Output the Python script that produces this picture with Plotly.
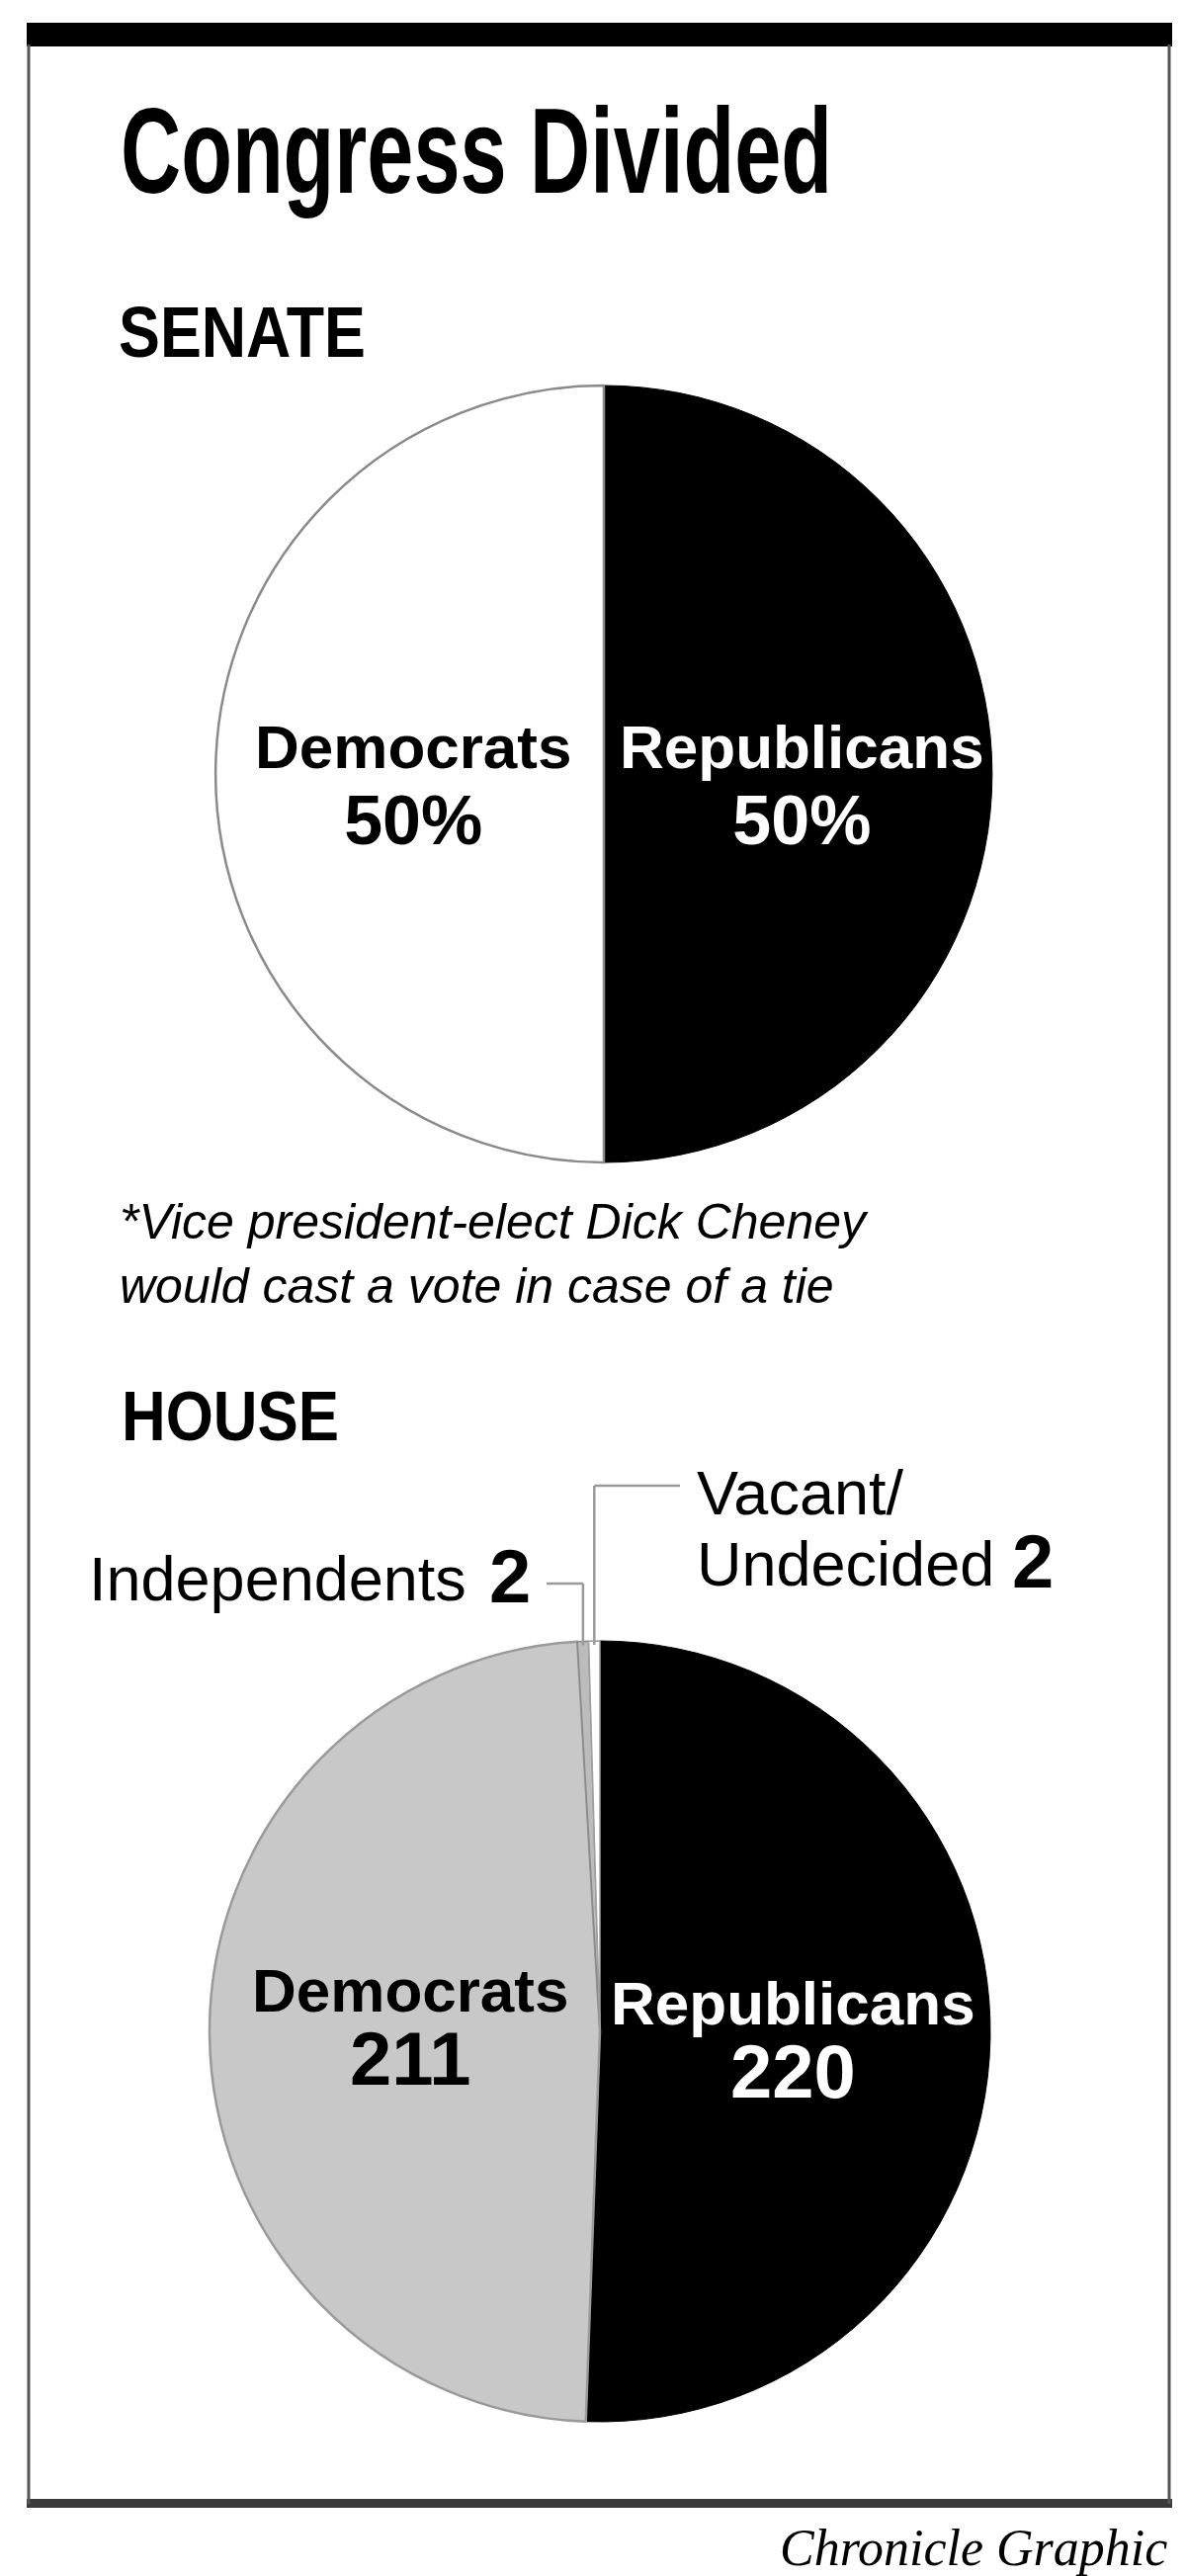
import math
import plotly.graph_objects as go

W, H = 1200, 2606

# ---------------- data ----------------
title_text = "Congress Divided"
senate_heading = "SENATE"
house_heading = "HOUSE"

senate_labels = ["Republicans", "Democrats"]
senate_values = [50, 50]
senate_value_text = ["50%", "50%"]
senate_colors = ["#000000", "#ffffff"]

house_labels = ["Republicans", "Democrats", "Independents", "Vacant/Undecided"]
house_values = [220, 211, 2, 2]
house_colors = ["#000000", "#c8c8c8", "#bcbcbc", "#ffffff"]

footnote_lines = ["*Vice president-elect Dick Cheney", "would cast a vote in case of a tie"]
credit = "Chronicle Graphic"

# ---------------- geometry helpers ----------------
def px(x):
    return x / W


def py(y):
    return 1 - y / H


SEN_C = (611, 783)
SEN_R = 393
HOU_C = (607, 2055)
HOU_R = 395


def domain(c, r):
    return dict(x=[px(c[0] - r), px(c[0] + r)], y=[py(c[1] + r), py(c[1] - r)])


SANS = "Liberation Sans, Arial, sans-serif"
SERIF = "Liberation Serif, Times New Roman, serif"

fig = go.Figure()

fig.add_trace(go.Pie(
    labels=senate_labels, values=senate_values, sort=False,
    direction="clockwise", rotation=0, textinfo="none",
    marker=dict(colors=senate_colors,
                line=dict(color=["#000000", "#8a8a8a"], width=[1, 2.5])),
    domain=domain(SEN_C, SEN_R), showlegend=False, hoverinfo="label+value",
))

fig.add_trace(go.Pie(
    labels=house_labels, values=house_values, sort=False,
    direction="clockwise", rotation=0, textinfo="none",
    marker=dict(colors=house_colors,
                line=dict(color=["#000000", "#9a9a9a", "#8a8a8a", "#a0a0a0"],
                          width=[1, 2.5, 1.5, 1.5])),
    domain=domain(HOU_C, HOU_R), showlegend=False, hoverinfo="label+value",
))

annotations = []


def ann(text, x, y, size, family=SANS, color="#000000", xanchor="center",
        weight="normal", style="normal", align="left"):
    annotations.append(dict(
        text=text, x=px(x), y=py(y), xref="paper", yref="paper",
        xanchor=xanchor, yanchor="middle", showarrow=False,
        font=dict(size=size, family=family, color=color, weight=weight, style=style),
        align=align,
    ))


def two_line(name, value, name_size, value_size):
    return (f"<span style='font-size:{name_size}px'>{name}</span><br>"
            f"<span style='font-size:{value_size}px'>{value}</span>")


# Title and headings (condensed afterwards via textLength in post_script)
ann(title_text, 120, 153, 122, SANS, xanchor="left", weight="bold")
ann(senate_heading, 118, 336, 72, SANS, xanchor="left", weight="bold")
ann(house_heading, 121, 1433, 70, SANS, xanchor="left", weight="bold")

# Senate slice labels (line pitch = 1.3 x base size)
sen_label_x = {"Democrats": 418, "Republicans": 811}
for lab, val in zip(senate_labels, senate_value_text):
    col = "#ffffff" if lab == "Republicans" else "#000000"
    ann(two_line(lab, val, 62, 70), sen_label_x[lab], 795, 59, SANS, col,
        weight="bold", align="center")

# House slice labels
hou_label_pos = {"Democrats": (415, 2052), "Republicans": (802, 2065)}
for lab, val in zip(house_labels[:2], house_values[:2]):
    col = "#ffffff" if lab == "Republicans" else "#000000"
    x, y = hou_label_pos[lab]
    ann(two_line(lab, val, 62, 76), x, y, 57, SANS, col, weight="bold", align="center")

# Footnote (one block, 1.3 line spacing)
ann("<br>".join(footnote_lines), 119, 1268, 50, SANS, xanchor="left", style="italic")

# Small-slice callouts
ann("Independents", 474, 1597, 63, SANS, xanchor="right")
ann(str(house_values[2]), 493, 1594, 76, SANS, xanchor="left", weight="bold")
ann("Vacant/", 703, 1510, 63, SANS, xanchor="left")
ann("Undecided", 703, 1582, 63, SANS, xanchor="left")
ann(str(house_values[3]), 1022, 1579, 76, SANS, xanchor="left", weight="bold")

# Credit
ann(credit, 1183, 2577, 52, SERIF, xanchor="right", style="italic")

# ---------------- shapes ----------------
shapes = []


def line(x0, y0, x1, y1, color, width):
    shapes.append(dict(type="line", xref="paper", yref="paper",
                       x0=px(x0), y0=py(y0), x1=px(x1), y1=py(y1),
                       line=dict(color=color, width=width)))


def rect(x0, y0, x1, y1, color):
    shapes.append(dict(type="rect", xref="paper", yref="paper",
                       x0=px(x0), y0=py(y0), x1=px(x1), y1=py(y1),
                       fillcolor=color, line=dict(width=0), layer="below"))


# frame
rect(27, 23, 1186, 47, "#000000")
line(29, 45, 29, 2533, "#555555", 3)
line(1183, 45, 1183, 2533, "#555555", 3)
rect(27, 2528, 1186, 2537, "#3a3a3a")

# leader lines, positioned from the slice angles
total = sum(house_values)
cum = 0
mids = []
for v in house_values:
    mids.append((cum + v / 2) / total * 2 * math.pi)
    cum += v
ind_t, vac_t = mids[2], mids[3]
ind_x = HOU_C[0] + HOU_R * math.sin(ind_t)
ind_y = HOU_C[1] - HOU_R * math.cos(ind_t)
vac_x = HOU_C[0] + HOU_R * math.sin(vac_t)
vac_y = HOU_C[1] - HOU_R * math.cos(vac_t)

LEAD = "#9a9a9a"
line(vac_x, vac_y + 4, vac_x, 1503, LEAD, 2.5)
line(vac_x, 1503, 688, 1503, LEAD, 2.5)
line(ind_x, ind_y + 4, ind_x, 1602, LEAD, 2.5)
line(ind_x, 1602, 553, 1602, LEAD, 2.5)

fig.update_layout(
    width=W, height=H,
    margin=dict(l=0, r=0, t=0, b=0),
    paper_bgcolor="#ffffff", plot_bgcolor="#ffffff",
    showlegend=False,
    annotations=annotations,
    shapes=shapes,
)

# condensed display faces: squeeze these texts to the reference widths
post_script = """
(function(){
  var gd = document.getElementById('{plot_id}');
  var targets = {"Congress Divided": 720, "SENATE": 250, "HOUSE": 220};
  function squeeze(){
    gd.querySelectorAll('text.annotation-text').forEach(function(t){
      var w = targets[t.textContent];
      if (w) {
        t.setAttribute('textLength', w);
        t.setAttribute('lengthAdjust', 'spacingAndGlyphs');
      }
    });
  }
  squeeze();
  if (gd.on) { gd.on('plotly_afterplot', squeeze); }
})();
"""

fig.write_html("out.html", post_script=post_script)
